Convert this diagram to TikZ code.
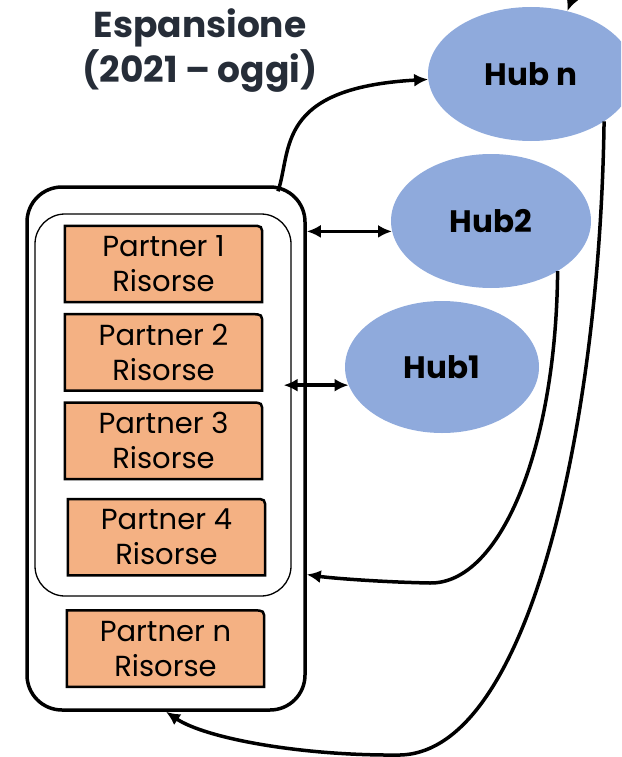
\documentclass[tikz,border=0pt]{standalone}
\usepackage{fontspec}
\setmainfont{Poppins}
\usetikzlibrary{arrows.meta,shapes.geometric,positioning,backgrounds}
\definecolor{partnerfill}{HTML}{F4B183}
\definecolor{hubfill}{HTML}{8FAADC}
\definecolor{titletext}{HTML}{262D38}
\tikzset{partner/.style={rectangle,minimum width=197pt,minimum height=76pt,inner sep=0pt,align=center,font=\fontsize{29}{35}\selectfont},
         partner line/.style={draw=black,fill=partnerfill,line width=2.5pt},
         hub/.style={ellipse,fill=hubfill,inner sep=0pt,font=\fontsize{31}{36}\selectfont\bfseries},
         group box/.style={rectangle,draw,inner sep=0pt},
         conn/.style={line width=3.5pt,-{Latex[length=14pt,width=13pt]}},
         two way/.style={line width=3.5pt,{Latex[length=14pt,width=13pt]}-{Latex[length=14pt,width=13pt]}},
}

\begin{document}
\begin{tikzpicture}[x=1pt,y=-1pt]
\useasboundingbox (0,0) rectangle (621,757);
\clip (0,0) rectangle (621,757);

\node [align=center, text=titletext, font=\fontsize{36}{45}\selectfont\bfseries] (title) at (200,51) {Espansione\\(2021 -- oggi)};

% network
\node [group box, line width=3.5pt, rounded corners=35pt, minimum width=278pt, minimum height=523pt] (outer) at (166,448.5) {};
\node [group box, line width=1.3pt, rounded corners=30pt, minimum width=256pt, minimum height=382pt] (inner) at (163,405) {};

\node [partner] (p1) at (163.5,264) {Partner 1\\Risorse};
\node [partner, below=12pt of p1] (p2) {Partner 2\\Risorse};
\node [partner, below=12pt of p2] (p3) {Partner 3\\Risorse};
\node [partner, below=20pt of p3, xshift=3pt] (p4) {Partner 4\\Risorse};
\node [partner, below=35pt of p4, xshift=-1pt] (pn) {Partner n\\Risorse};

\begin{pgfonlayer}{background}
\foreach \p in {p1,p2,p3,p4,pn}
    \draw[partner line] (\p.south west) -- (\p.north west) -- ([xshift=-11pt]\p.north east)
        .. controls (\p.north east) .. ([yshift=-11pt]\p.north east) -- (\p.south east) -- cycle;
\end{pgfonlayer}

\node [hub, minimum width=206pt, minimum height=134pt] (hubn) at (531,74) {Hub n};
\node [hub, minimum width=200pt, minimum height=134pt] (hub2) at (491,221) {Hub2};
\node [hub, minimum width=194pt, minimum height=132pt] (hub1) at (442,367) {Hub1};

\coordinate (offtop) at (582,-28);
\draw[conn] (offtop) -- (hubn.60);
\draw[conn] ([xshift=112pt,yshift=-6pt]outer.north) .. controls (292,150) and (275,88) .. (hubn.183);
\draw[two way] (outer.east |- hub2.186) -- (hub2.186);
\draw[two way] ([xshift=-8pt]inner.east |- hub1.191) -- (hub1.191);
\draw[conn] (hub2.-37) .. controls (556,450) and (500,584) .. (430,583)
    .. controls (380,582) and (330,578) .. ([yshift=-126pt]outer.east);
\draw[conn] (hubn.-33) .. controls (600,420) and (530,752) .. (400,755)
    .. controls (300,756) and (205,738) .. (outer.south);
\end{tikzpicture}
\end{document}
